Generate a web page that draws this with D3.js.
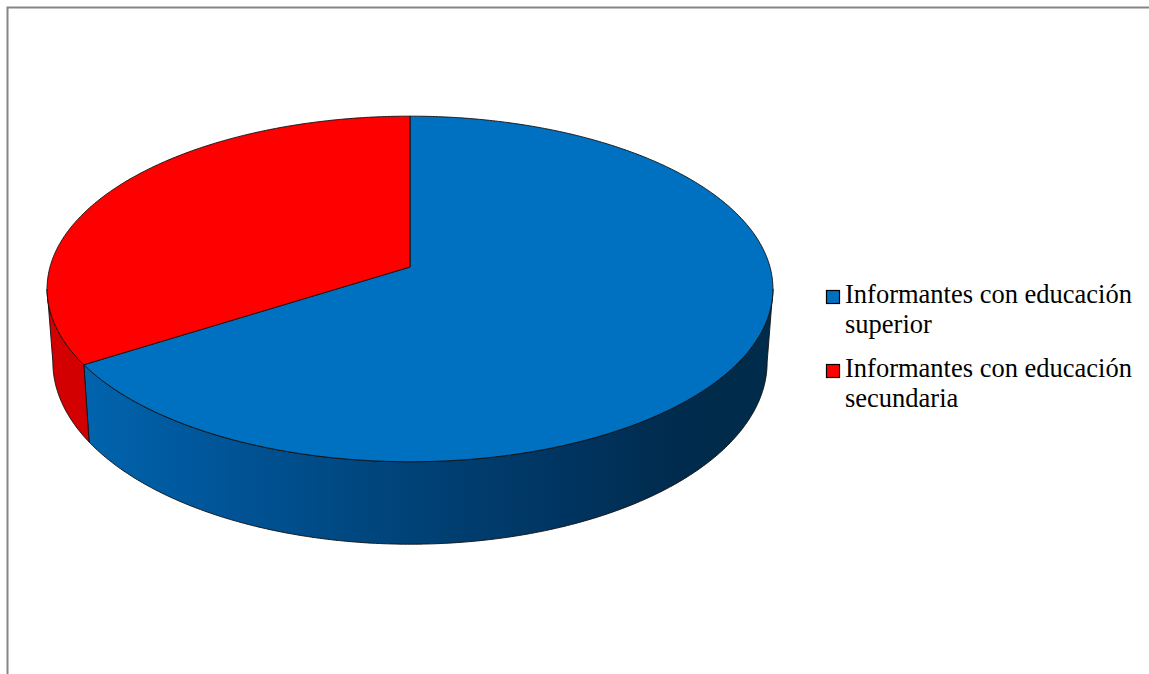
<!DOCTYPE html>
<html>
<head>
<meta charset="utf-8">
<script src="https://cdn.jsdelivr.net/npm/d3@7"></script>
<style>
  html, body { margin: 0; padding: 0; background: #fff; }
  svg { display: block; }
</style>
</head>
<body>
<svg id="chart" width="1149" height="674"></svg>
<script>
// Survey respondents by level of education
const categories = ["Informantes con educación superior", "Informantes con educación secundaria"];
const values = [66, 34];

const W = 1149, H = 674;
const svg = d3.select("#chart");

// Frame around the chart area
svg.append("path")
  .attr("d", `M7.5,${H} V7.5 H${W}`)
  .attr("fill", "none")
  .attr("stroke", "#858585")
  .attr("stroke-width", 2);

const color = d3.scaleOrdinal().domain(categories).range(["#0070c0", "#ff0000"]);
const sideColor = d3.scaleOrdinal().domain(categories).range(["url(#blueSide)", "#d20000"]);

// Perspective disk: centre of the pie, radii, perspective factor, thickness
const cx = 410, cy = 267, rx = 360, ry = 170, persp = 0.127, depth = 72, bottomScale = 0.984;

// d3 pie angle (clockwise from 12 o'clock) -> screen point on top or bottom rim
function rim(a, bottom) {
  const t = a - Math.PI / 2;
  const u = Math.cos(t), v = Math.sin(t);
  const w = 1 - persp * v;
  const sx = bottom ? bottomScale : 1;
  return [cx + rx * u * sx / w, cy + (ry * v + (bottom ? depth : 0)) / w];
}

function arcPoints(a0, a1, bottom) {
  const n = Math.max(2, Math.ceil(Math.abs(a1 - a0) / 0.01));
  const pts = [];
  for (let i = 0; i <= n; i++) pts.push(rim(a0 + (a1 - a0) * i / n, bottom));
  return pts;
}

const pie = d3.pie().sort(null).value(d => d.value).startAngle(0).endAngle(2 * Math.PI);
const slices = pie(categories.map((c, i) => ({ name: c, value: values[i] })));

// Side gradient for the blue wall: lighter on the left, darkest towards the right
const defs = svg.append("defs");
const grad = defs.append("linearGradient")
  .attr("id", "blueSide")
  .attr("gradientUnits", "userSpaceOnUse")
  .attr("x1", 47).attr("y1", 0).attr("x2", 773).attr("y2", 0);
[[0, "#0068b4"], [0.08, "#0062aa"], [0.22, "#00569a"], [0.39, "#004a85"],
 [0.55, "#003f72"], [0.72, "#003460"], [0.88, "#002b4c"], [1, "#002c4b"]]
  .forEach(([o, c]) => grad.append("stop").attr("offset", o).attr("stop-color", c));

// Visible range of the outer wall (between the left and right silhouette)
const ts = Math.asin(persp);
const visStart = Math.PI / 2 + ts, visEnd = 1.5 * Math.PI - ts;

const line = d3.line();
const gSide = svg.append("g");
slices.forEach(s => {
  const a0 = Math.max(s.startAngle, visStart), a1 = Math.min(s.endAngle, visEnd);
  if (a1 <= a0) return;
  const pts = arcPoints(a0, a1, false).concat(arcPoints(a0, a1, true).reverse());
  gSide.append("path")
    .attr("d", line(pts) + "Z")
    .attr("fill", sideColor(s.data.name))
    .attr("stroke", "#111")
    .attr("stroke-width", 0.9)
    .attr("stroke-linejoin", "round");
});

// Top faces
const gTop = svg.append("g");
slices.forEach(s => {
  const pts = [[cx, cy]].concat(arcPoints(s.startAngle, s.endAngle, false));
  gTop.append("path")
    .attr("d", line(pts) + "Z")
    .attr("fill", color(s.data.name))
    .attr("stroke", "#111")
    .attr("stroke-width", 0.9)
    .attr("stroke-linejoin", "round");
});

// Legend
const legend = svg.append("g").attr("transform", "translate(826,290)");
const entryGap = 74, lineGap = 29.5;
categories.forEach((c, i) => {
  const g = legend.append("g").attr("transform", `translate(0,${i * entryGap})`);
  g.append("rect")
    .attr("x", 0.5).attr("y", 0.5).attr("width", 13).attr("height", 13)
    .attr("fill", color(c)).attr("stroke", "#000").attr("stroke-width", 1.2);
  const cut = c.lastIndexOf(" ");
  const text = g.append("text")
    .attr("x", 19).attr("y", 13)
    .attr("font-family", "'Liberation Serif', 'Times New Roman', serif")
    .attr("font-size", 26.5)
    .attr("fill", "#000");
  text.append("tspan").attr("x", 19).attr("dy", 0).text(c.slice(0, cut));
  text.append("tspan").attr("x", 19).attr("dy", lineGap).text(c.slice(cut + 1));
});
</script>
</body>
</html>
